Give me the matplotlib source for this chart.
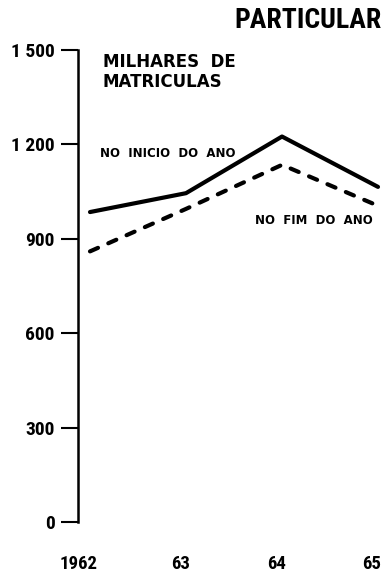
import matplotlib
matplotlib.use("Agg")
import matplotlib.pyplot as plt
from matplotlib.transforms import ScaledTranslation

years = [1962, 1963, 1964, 1965]
year_labels = ["1962", "63", "64", "65"]
inicio = [985, 1045, 1225, 1065]
fim = [860, 995, 1135, 1005]
yticks = [0, 300, 600, 900, 1200, 1500]
ytick_labels = ["0", "300", "600", "900", "1 200", "1 500"]

NARROW = ["Roboto Condensed", "Liberation Sans Narrow", "DejaVu Sans"]
WIDE = ["DejaVu Sans"]
plt.rcParams['font.family'] = NARROW
plt.rcParams['font.weight'] = 'bold'

W, H = 389, 575
fig = plt.figure(figsize=(W / 100, H / 100), dpi=100)
left_px, right_px = 78, 389
bot_px, top_px = 522, 50
ax = fig.add_axes([left_px / W, 1 - bot_px / H, (right_px - left_px) / W, (bot_px - top_px) / H])

ax.plot(years, inicio, color="black", lw=3.0, solid_capstyle="round", solid_joinstyle="round")
ax.plot(years, fim, color="black", lw=3.0, linestyle=(0, (2.1, 2.7)), dash_capstyle="round")

step_px = 96.0
ax.set_xlim(1962 - 12 / step_px, 1965 + 11 / step_px)
ax.set_ylim(0, 1500)

for s in ["top", "right", "bottom"]:
    ax.spines[s].set_visible(False)
ax.spines["left"].set_linewidth(1.8)

ax.set_yticks(yticks)
ax.set_yticklabels(ytick_labels)
ax.tick_params(axis="y", direction="out", length=12, width=1.5, pad=5, labelsize=14)
ax.set_xticks(years)
ax.set_xticklabels(year_labels)
ax.tick_params(axis="x", length=0, pad=24, labelsize=13.5)
for lbl in ax.get_xticklabels() + ax.get_yticklabels():
    lbl.set_fontweight("bold")
# printed year labels sit slightly left of their data positions
shifts_px = [-11, -5, -5, -6]
for lbl, dx in zip(ax.get_xticklabels(), shifts_px):
    lbl.set_transform(lbl.get_transform() + ScaledTranslation(dx / 100, 0, fig.dpi_scale_trans))

fig.text(382 / W, 1 - 21 / H, "PARTICULAR", ha="right", va="center", fontsize=20, fontweight="bold")
fig.text(103 / W, 1 - 72 / H, "MILHARES  DE\nMATRICULAS", fontsize=12, fontweight="bold",
         family=WIDE, ha="left", va="center", linespacing=1.15)
fig.text(100 / W, 1 - 153 / H, "NO  INICIO  DO  ANO", ha="left", va="center", fontsize=8.5,
         fontweight="bold", family=WIDE)
fig.text(373 / W, 1 - 220 / H, "NO  FIM  DO  ANO", ha="right", va="center", fontsize=8.5,
         fontweight="bold", family=WIDE)

fig.savefig("out.png", dpi=100)
